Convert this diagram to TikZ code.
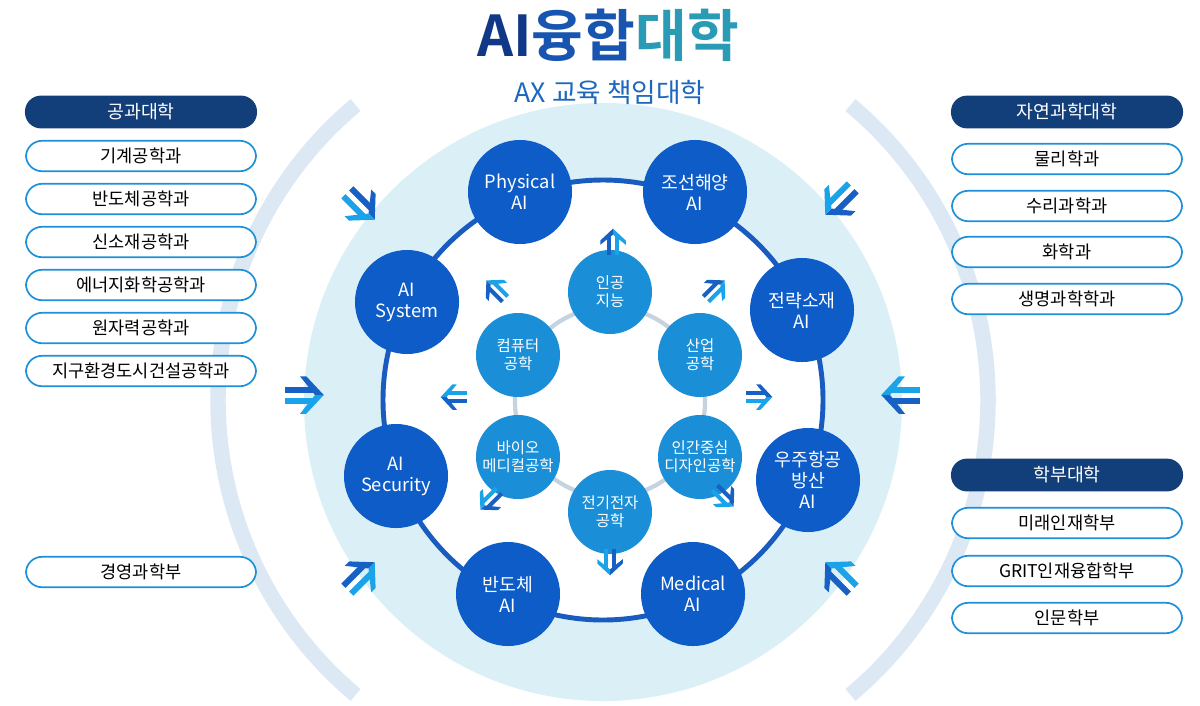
\documentclass[tikz,border=0pt]{standalone}
\usepackage{fontspec}
\setmainfont{Noto Sans CJK KR}
\newfontfamily\kb{Noto Sans CJK KR Bold}
\begin{document}
\definecolor{navy}{HTML}{123E7A}
\definecolor{ringb}{HTML}{1A5BBF}
\definecolor{outn}{HTML}{0D5CC7}
\definecolor{inn}{HTML}{1A8FD8}
\definecolor{pale}{HTML}{DAEFF6}
\definecolor{arcc}{HTML}{DCE9F4}
\definecolor{boxb}{HTML}{1E90D8}
\definecolor{darr}{HTML}{1760C4}
\definecolor{larr}{HTML}{1AA3E8}
\definecolor{teal}{HTML}{2A9BB5}
\definecolor{iring}{HTML}{C5D3E0}
\begin{tikzpicture}[x=0.025cm,y=-0.025cm,
  outer/.style={circle,fill=outn,text=white,minimum size=2.6cm,inner sep=0pt,align=center,font=\fontsize{13}{15}\selectfont},
  inner/.style={circle,fill=inn,text=white,minimum size=2.1cm,inner sep=0pt,align=center,font=\fontsize{11}{13}\selectfont},
  hdr/.style={rounded corners=0.4cm,fill=navy,text=white,minimum width=5.8cm,minimum height=0.82cm,font=\fontsize{13}{14}\selectfont},
  itm/.style={rounded corners=0.4cm,draw=boxb,line width=1.2pt,fill=white,text=black,minimum width=5.75cm,minimum height=0.76cm,font=\fontsize{12.5}{13}\selectfont},
  dar/.pic={
    \fill[darr] (-1,-0.1) rectangle (0.15,-0.34);
    \fill[larr] (-1,0.1) rectangle (0.15,0.34);
    \fill[darr] (-0.15,-0.75) -- (0.55,0) -- (0.2,0) -- (-0.4,-0.75) -- cycle;
    \fill[larr] (-0.15,0.75) -- (0.55,0) -- (0.2,0) -- (-0.4,0.75) -- cycle;
  }]
\useasboundingbox (0,0) rectangle (1200,705);
\fill[white] (0,0) rectangle (1200,705);
\coordinate (C) at (603,400);
\draw[arcc,line width=11pt] ([shift={(C)}]-130:385) arc[start angle=-130,end angle=-230,radius=385];
\draw[arcc,line width=11pt] ([shift={(C)}]-50:385) arc[start angle=-50,end angle=50,radius=385];
\fill[pale] (603,402) circle[radius=299];
\fill[white] (603,400) circle[radius=218];
\draw[ringb,line width=3.5pt] (603,400) circle[radius=220];
\draw[iring,line width=3pt] (610,402) circle[radius=95];
\node[outer] (phy) at (520,192) {Physical\\AI};
\node[outer] (shp) at (695,192) {조선해양\\AI};
\node[outer] (mat) at (802,310) {전략소재\\AI};
\node[outer] (spc) at (808,480) {우주항공\\방산\\AI};
\node[outer] (med) at (693,594) {Medical\\AI};
\node[outer] (sem) at (508,594) {반도체\\AI};
\node[outer] (sec) at (396,476) {AI\\Security};
\node[outer] (sys) at (407,302) {AI\\System};
\node[inner] (ai) at (610,292) {인공\\지능};
\node[inner] (ind) at (700,355) {산업\\공학};
\node[inner] (hcd) at (700,457) {인간중심\\디자인공학};
\node[inner] (ee) at (610,512) {전기전자\\공학};
\node[inner] (bio) at (518,457) {바이오\\메디컬공학};
\node[inner] (cs) at (518,355) {컴퓨터\\공학};
\pic[rotate=90,scale=17] at (613,238) {dar};
\pic[rotate=135,scale=17] at (493,287) {dar};
\pic[rotate=45,scale=17] at (718,287) {dar};
\pic[rotate=180,scale=17] at (450,397) {dar};
\pic[rotate=0,scale=17] at (763,397) {dar};
\pic[rotate=-135,scale=17] at (487,503) {dar};
\pic[rotate=-45,scale=17] at (727,500) {dar};
\pic[rotate=-90,scale=17] at (610,566) {dar};
\pic[rotate=-45,scale=25] at (365,210) {dar};
\pic[rotate=0,scale=25] at (310,395) {dar};
\pic[rotate=45,scale=25] at (365,572) {dar};
\pic[rotate=-135,scale=25] at (835,205) {dar};
\pic[rotate=180,scale=25] at (895,395) {dar};
\pic[rotate=135,scale=25] at (835,572) {dar};
\node (t) at (608,35) {\kb\fontsize{40}{40}\selectfont\textcolor{navy!90!blue}{AI}\textcolor{ringb!80!navy}{융합}\textcolor{teal}{대학}};
\node[text=ringb!80!teal] (st) at (610,92) {\fontsize{19}{20}\selectfont AX 교육 책임대학};
\node[hdr] (eng) at (141,112) {공과대학};
\foreach \n/\y/\t in {e1/156/기계공학과,e2/199/반도체공학과,e3/242/신소재공학과,e4/285/에너지화학공학과,e5/328/원자력공학과,e6/371/지구환경도시건설공학과,e7/572/경영과학부}
  \node[itm] (\n) at (141,\y) {\t};
\node[hdr] (nat) at (1067,112) {자연과학대학};
\foreach \n/\y/\t in {n1/159/물리학과,n2/206/수리과학과,n3/252/화학과,n4/299/생명과학학과}
  \node[itm] (\n) at (1067,\y) {\t};
\node[hdr] (und) at (1067,475) {학부대학};
\foreach \n/\y/\t in {u1/523/미래인재학부,u2/571/GRIT인재융합학부,u3/618/인문학부}
  \node[itm] (\n) at (1067,\y) {\t};
\end{tikzpicture}
\end{document}
